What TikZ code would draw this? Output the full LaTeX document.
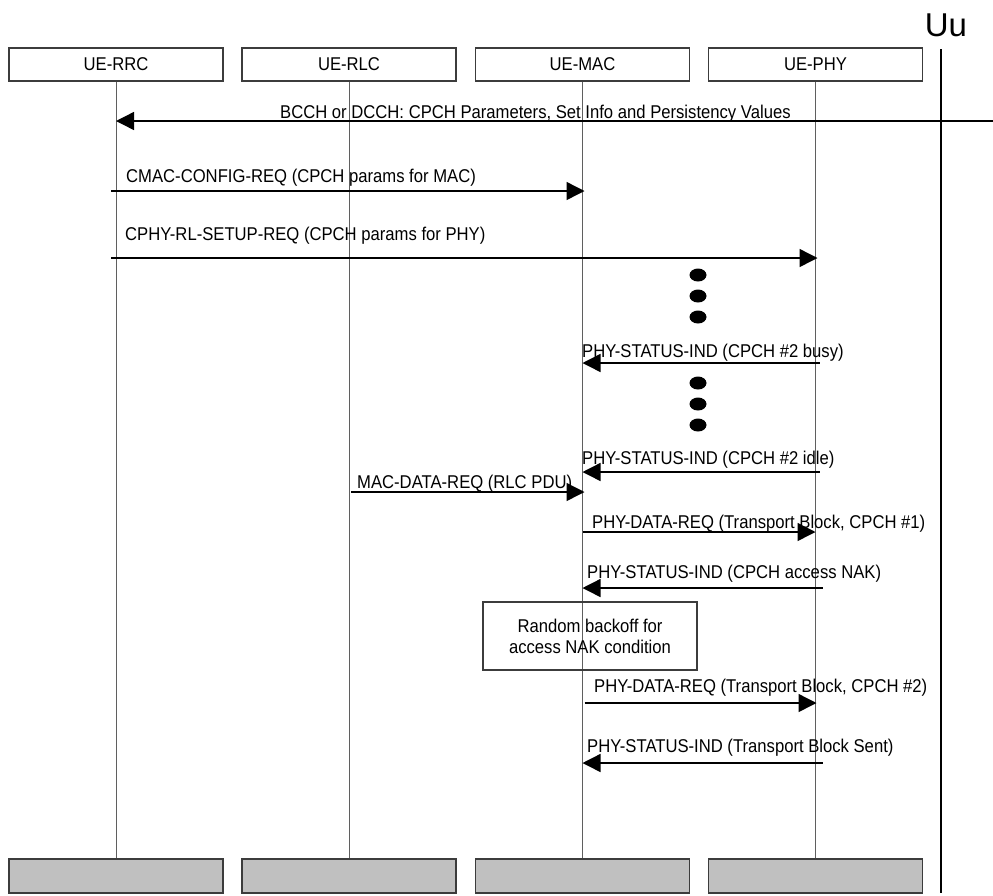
\documentclass[tikz,border=0pt]{standalone}
\usepackage{fontspec}
\setmainfont{Liberation Sans}[FakeStretch=0.9]
\newfontfamily\uufont{Liberation Sans}
\usetikzlibrary{arrows.meta,positioning}
\definecolor{frame}{RGB}{60,60,60}
\definecolor{stub}{RGB}{192,192,192}
\definecolor{life}{RGB}{95,95,95}
\tikzset{
  >={Triangle[length=18pt,width=18pt]},
  entity/.style={draw=frame,line width=1.3pt,minimum width=214pt,minimum height=33pt,
    inner sep=0pt,font=\fontsize{18.5}{21}\selectfont},
  foot/.style={entity,fill=stub,minimum height=34pt},
  lifeline/.style={draw=life,line width=1pt},
  msg/.style={->,draw=black,line width=1.4pt},
  lbl/.style={anchor=base west,inner sep=0pt,font=\fontsize{18.5}{21}\selectfont},
  note/.style={draw=frame,line width=1.3pt,minimum width=214pt,minimum height=68pt,
    align=center,inner sep=0pt,font=\fontsize{18.5}{21}\selectfont},
}

\begin{document}
\begin{tikzpicture}[x=1pt,y=-1pt]
  \useasboundingbox (0,0) rectangle (993,895);
  % entities
  \node[entity] (rrc) at (116,64.5) {UE-RRC};
  \node[entity] (rlc) at (349,64.5) {UE-RLC};
  \node[entity] (mac) at (582.5,64.5) {UE-MAC};
  \node[entity] (phy) at (815.5,64.5) {UE-PHY};
  \node[foot] (rrcb) at (116,876) {};
  \node[foot] (rlcb) at (349,876) {};
  \node[foot] (macb) at (582.5,876) {};
  \node[foot] (phyb) at (815.5,876) {};
  \foreach \e in {rrc,rlc,mac,phy}
    \draw[lifeline] (\e.south) -- (\e b.north);
  % Uu interface
  \node[inner sep=0pt,font=\uufont\fontsize{33}{36}\selectfont] (uu) at (946,25) {Uu};
  \coordinate (uutop) at (941,49);
  \coordinate (uubot) at (941,893);
  \draw[line width=2pt] (uutop) -- (uubot);
  % message rows
  \coordinate (r1) at (0,121);
  \coordinate (r2) at (0,191);
  \coordinate (r3) at (0,258);
  \coordinate (r4) at (0,363);
  \coordinate (r5) at (0,472);
  \coordinate (r6) at (0,492);
  \coordinate (r7) at (0,532);
  \coordinate (r8) at (0,588);
  \coordinate (r9) at (0,703);
  \coordinate (r10) at (0,763);
  \coordinate (edge) at (993,121);
  \draw[msg] (edge) -- (rrc |- r1);
  \node[lbl] (lbcch) at (280,118) {BCCH or DCCH: CPCH Parameters, Set Info and Persistency Values};
  \draw[msg] ([xshift=-5pt]rrc |- r2) -- ([xshift=2pt]mac |- r2);
  \node[lbl] (lcmac) at (126,182) {CMAC-CONFIG-REQ (CPCH params for MAC)};
  \draw[msg] ([xshift=-5pt]rrc |- r3) -- ([xshift=2pt]phy |- r3);
  \node[lbl] (lcphy) at (125,240) {CPHY-RL-SETUP-REQ (CPCH params for PHY)};
  % waiting
  \foreach \y in {275,296,317,383,404,425}
    \fill (698,\y) ellipse (8.5 and 6.5);
  \draw[msg] ([xshift=4pt]phy |- r4) -- (mac |- r4);
  \node[lbl] (lbusy) at (582,357) {PHY-STATUS-IND (CPCH \#2 busy)};
  \draw[msg] ([xshift=4pt]phy |- r5) -- (mac |- r5);
  \node[lbl] (lidle) at (582,464) {PHY-STATUS-IND (CPCH \#2 idle)};
  \draw[msg] ([xshift=2pt]rlc |- r6) -- ([xshift=2pt]mac |- r6);
  \node[lbl] (lmacdata) at (357,488) {MAC-DATA-REQ (RLC PDU)};
  \draw[msg] (mac |- r7) -- (phy |- r7);
  \node[lbl] (ldata1) at (592,528) {PHY-DATA-REQ (Transport Block, CPCH \#1)};
  \draw[msg] ([xshift=7pt]phy |- r8) -- (mac |- r8);
  \node[lbl] (lnak) at (587,578) {PHY-STATUS-IND (CPCH access NAK)};
  \node[note] (backoff) at (590,636) {Random backoff for\\access NAK condition};
  \draw[msg] ([xshift=2pt]mac |- r9) -- ([xshift=1pt]phy |- r9);
  \node[lbl] (ldata2) at (594,692) {PHY-DATA-REQ (Transport Block, CPCH \#2)};
  \draw[msg] ([xshift=7pt]phy |- r10) -- (mac |- r10);
  \node[lbl] (lsent) at (587,752) {PHY-STATUS-IND (Transport Block Sent)};
\end{tikzpicture}
\end{document}
